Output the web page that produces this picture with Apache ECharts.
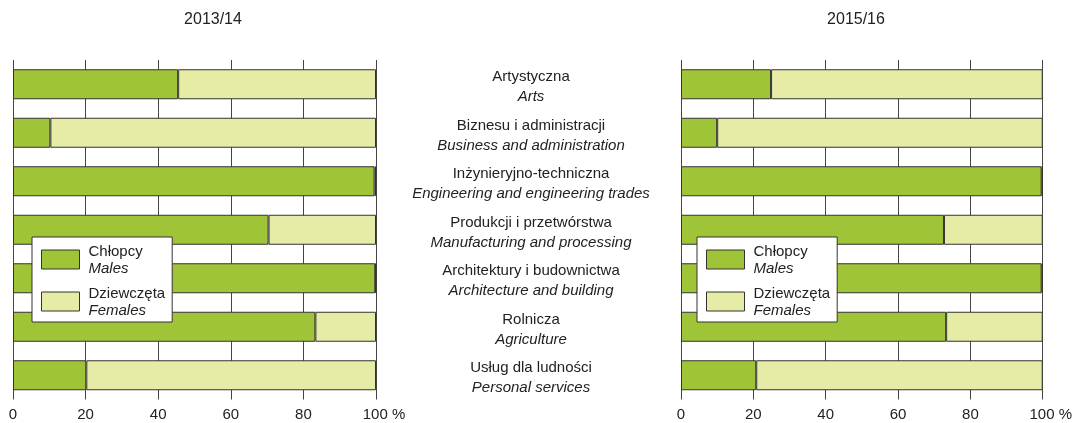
<!DOCTYPE html>
<html>
<head>
<meta charset="utf-8">
<script src="https://cdn.jsdelivr.net/npm/echarts@6/dist/echarts.min.js"></script>
<style>
  html, body { margin: 0; padding: 0; background: #fff; }
  #main { width: 1075px; height: 423px; }
</style>
</head>
<body>
<div id="main"></div>
<script>
// kategorie (PL / EN)
const categoriesPl = ['Artystyczna', 'Biznesu i administracji', 'Inżynieryjno-techniczna', 'Produkcji i przetwórstwa', 'Architektury i budownictwa', 'Rolnicza', 'Usług dla ludności']
const categoriesEn = ['Arts', 'Business and administration', 'Engineering and engineering trades', 'Manufacturing and processing', 'Architecture and building', 'Agriculture', 'Personal services']
// udział chłopców / dziewcząt w %
const males1314 = [45.5, 10.3, 99.6, 70.4, 99.8, 83.3, 20.2]
const females1314 = [54.5, 89.7, 0.4, 29.6, 0.2, 16.7, 79.8]
const males1516 = [24.9, 10.0, 99.7, 72.7, 99.7, 73.3, 20.8]
const females1516 = [75.1, 90.0, 0.3, 27.3, 0.3, 26.7, 79.2]
const xTicks = [0, 20, 40, 60, 80, 100]

const font = "'Liberation Sans', Arial, Helvetica, sans-serif"
const GREEN = '#a0c437'
const LIGHT = '#e6eca6'
const EDGE = '#333'

const chart = echarts.init(document.getElementById('main'))

function xAxis(gridIndex) {
  return {
    gridIndex: gridIndex,
    type: 'value',
    min: 0,
    max: 100,
    interval: 20,
    axisLine: { show: false },
    axisTick: { show: false },
    splitLine: { show: true, lineStyle: { color: '#444', width: 1 } },
    axisLabel: {
      margin: 8,
      fontFamily: font,
      fontSize: 15,
      color: '#222',
      // "%" wisi na prawo od 100
      formatter: (v) => (v === xTicks[xTicks.length - 1] ? '{pad|}' + v + ' %' : String(v)),
      rich: { pad: { width: 16 } }
    }
  }
}

function legend(left) {
  return {
    data: ['Chłopcy', 'Dziewczęta'],
    orient: 'vertical',
    left: left,
    top: 237,
    itemWidth: 38,
    itemHeight: 19,
    itemGap: 8,
    padding: [5, 7, 4, 9],
    backgroundColor: '#fff',
    borderColor: EDGE,
    borderWidth: 1,
    selectedMode: false,
    icon: 'rect',
    itemStyle: { borderColor: EDGE, borderWidth: 1 },
    formatter: (name) => name === 'Chłopcy' ? '{a|Chłopcy}\n{b|Males}' : '{a|Dziewczęta}\n{b|Females}',
    textStyle: {
      fontFamily: font,
      fontSize: 15,
      color: '#222',
      rich: {
        a: { fontFamily: font, fontSize: 15, lineHeight: 18, color: '#222', padding: [2, 0, 0, 4] },
        b: { fontFamily: font, fontSize: 15, lineHeight: 18, color: '#222', fontStyle: 'italic', padding: [0, 0, 0, 4] }
      }
    }
  }
}

function bar(name, data, idx, stack, color) {
  return {
    name: name,
    type: 'bar',
    stack: stack,
    xAxisIndex: idx,
    yAxisIndex: idx,
    data: data,
    barWidth: 30,
    itemStyle: { color: color, borderColor: EDGE, borderWidth: 1 },
    emphasis: { disabled: true }
  }
}

chart.setOption({
  animation: false,
  textStyle: { fontFamily: font },
  title: [
    { text: '2013/14', left: 208, top: 7, textAlign: 'center', textStyle: { fontFamily: font, fontSize: 16, fontWeight: 'normal', color: '#222' } },
    { text: '2015/16', left: 851, top: 7, textAlign: 'center', textStyle: { fontFamily: font, fontSize: 16, fontWeight: 'normal', color: '#222' } }
  ],
  legend: [legend(32), legend(697)],
  grid: [
    { left: 13, top: 60, width: 363, height: 339.5 },
    { left: 681, top: 60, width: 362.5, height: 339.5 }
  ],
  xAxis: [xAxis(0), xAxis(1)],
  yAxis: [
    {
      gridIndex: 0,
      type: 'category',
      inverse: true,
      data: categoriesPl,
      axisLine: { show: false },
      axisTick: { show: false },
      axisLabel: { show: false }
    },
    {
      gridIndex: 1,
      type: 'category',
      inverse: true,
      position: 'left',
      data: categoriesPl,
      axisLine: { show: false },
      axisTick: { show: false },
      axisLabel: {
        margin: 150,
        align: 'center',
        interval: 0,
        padding: [6, 0, 0, 0],
        formatter: (v, i) => '{a|' + v + '}\n{b|' + categoriesEn[i] + '}',
        rich: {
          a: { fontFamily: font, fontSize: 15, lineHeight: 20, color: '#222', align: 'center' },
          b: { fontFamily: font, fontSize: 15, lineHeight: 20, color: '#222', fontStyle: 'italic', align: 'center' }
        }
      }
    }
  ],
  series: [
    bar('Chłopcy', males1314, 0, 'l', GREEN),
    bar('Dziewczęta', females1314, 0, 'l', LIGHT),
    bar('Chłopcy', males1516, 1, 'r', GREEN),
    bar('Dziewczęta', females1516, 1, 'r', LIGHT)
  ]
})
</script>
</body>
</html>
